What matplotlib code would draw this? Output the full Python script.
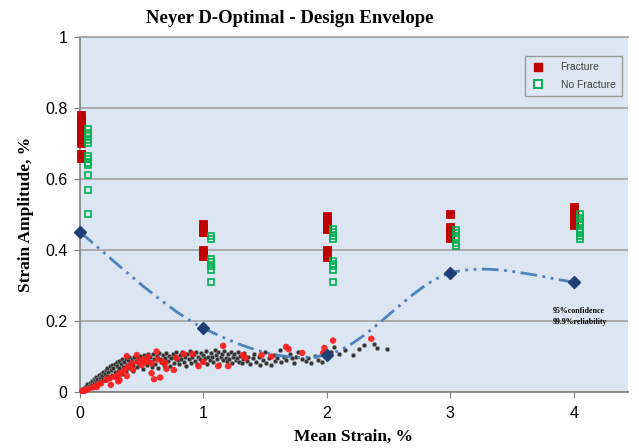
import numpy as np
import matplotlib.pyplot as plt
from matplotlib.path import Path
from matplotlib.patches import PathPatch
from matplotlib.lines import Line2D

# ── data ───────────────────────────────────────────────────
frac_x = [0.01] * 11 + [1.0] * 6 + [2.0] * 8 + [3.0] * 5 + [4.0] * 6
frac_y = [0.78, 0.77, 0.76, 0.75, 0.74, 0.73, 0.72, 0.71, 0.70, 0.67, 0.66,
          0.473, 0.462, 0.45, 0.40, 0.39, 0.382,
          0.495, 0.485, 0.475, 0.465, 0.46, 0.40, 0.39, 0.38,
          0.502, 0.465, 0.455, 0.445, 0.435,
          0.52, 0.51, 0.50, 0.49, 0.48, 0.47]

nofrac_x = [0.065] * 12 + [1.06] * 7 + [2.05] * 9 + [3.05] * 6 + [4.05] * 8
nofrac_y = [0.74, 0.73, 0.72, 0.71, 0.70, 0.665, 0.655, 0.645, 0.64, 0.61, 0.57, 0.50,
            0.44, 0.43, 0.375, 0.365, 0.355, 0.345, 0.31,
            0.46, 0.45, 0.44, 0.43, 0.37, 0.36, 0.355, 0.345, 0.31,
            0.456, 0.447, 0.438, 0.43, 0.42, 0.41,
            0.50, 0.49, 0.48, 0.47, 0.46, 0.45, 0.44, 0.43]

env_x = [0, 1, 2, 3, 4]
env_y = [0.45, 0.18, 0.105, 0.335, 0.31]

black_pts = [
    (0.01, 0.003), (0.02, 0.008), (0.03, 0.004), (0.03, 0.012), (0.04, 0.009),
    (0.05, 0.016), (0.05, 0.006), (0.06, 0.012), (0.06, 0.022), (0.07, 0.018),
    (0.08, 0.026), (0.08, 0.011), (0.09, 0.021), (0.10, 0.030), (0.10, 0.016),
    (0.11, 0.026), (0.11, 0.038), (0.12, 0.020), (0.12, 0.033), (0.13, 0.042),
    (0.13, 0.027), (0.14, 0.036), (0.15, 0.047), (0.15, 0.024), (0.16, 0.040),
    (0.16, 0.031), (0.17, 0.052), (0.18, 0.045), (0.18, 0.030), (0.19, 0.057),
    (0.19, 0.038), (0.20, 0.050), (0.21, 0.062), (0.21, 0.033), (0.22, 0.044),
    (0.22, 0.068), (0.23, 0.055), (0.24, 0.072), (0.24, 0.040), (0.25, 0.061),
    (0.26, 0.076), (0.26, 0.048), (0.27, 0.068), (0.28, 0.080), (0.28, 0.055),
    (0.29, 0.042), (0.30, 0.073), (0.30, 0.085), (0.31, 0.060), (0.32, 0.088),
    (0.32, 0.068), (0.33, 0.078), (0.34, 0.050), (0.34, 0.092), (0.35, 0.070),
    (0.36, 0.084), (0.37, 0.094), (0.37, 0.060), (0.38, 0.077), (0.39, 0.090),
    (0.40, 0.068), (0.40, 0.098), (0.41, 0.082), (0.42, 0.094), (0.43, 0.058),
    (0.43, 0.075), (0.44, 0.100), (0.45, 0.088), (0.46, 0.070), (0.47, 0.097),
    (0.48, 0.080), (0.49, 0.102), (0.50, 0.090), (0.51, 0.066), (0.52, 0.084),
    (0.52, 0.104), (0.53, 0.096), (0.54, 0.075), (0.55, 0.106), (0.56, 0.088),
    (0.57, 0.099), (0.58, 0.070), (0.59, 0.108), (0.60, 0.092), (0.61, 0.080),
    (0.62, 0.101), (0.63, 0.068), (0.64, 0.110), (0.65, 0.094), (0.66, 0.085),
    (0.67, 0.104), (0.68, 0.075), (0.69, 0.097), (0.70, 0.110), (0.71, 0.088),
    (0.72, 0.102), (0.73, 0.072), (0.74, 0.095), (0.75, 0.108), (0.76, 0.083),
    (0.77, 0.100), (0.78, 0.112), (0.79, 0.090), (0.80, 0.078), (0.81, 0.104),
    (0.82, 0.094), (0.83, 0.112), (0.84, 0.085), (0.85, 0.100), (0.86, 0.074),
    (0.87, 0.108), (0.88, 0.092), (0.89, 0.115), (0.90, 0.082), (0.91, 0.099),
    (0.92, 0.106), (0.93, 0.088), (0.94, 0.113), (0.95, 0.078), (0.96, 0.100),
    (0.97, 0.093), (0.98, 0.110), (0.99, 0.084), (1.00, 0.104), (1.01, 0.095),
    (1.02, 0.116), (1.03, 0.080), (1.04, 0.100), (1.05, 0.090), (1.06, 0.110),
    (1.07, 0.098), (1.08, 0.085), (1.09, 0.118), (1.10, 0.104), (1.11, 0.092),
    (1.12, 0.112), (1.13, 0.080), (1.14, 0.100), (1.15, 0.108), (1.16, 0.090),
    (1.17, 0.115), (1.18, 0.097), (1.19, 0.086), (1.20, 0.106), (1.21, 0.094),
    (1.22, 0.112), (1.23, 0.082), (1.24, 0.100), (1.25, 0.108), (1.26, 0.090),
    (1.27, 0.097), (1.28, 0.113), (1.29, 0.085), (1.30, 0.102), (1.31, 0.082),
    (1.32, 0.094), (1.33, 0.110), (1.35, 0.088), (1.36, 0.100), (1.38, 0.078),
    (1.40, 0.095), (1.41, 0.108), (1.43, 0.084), (1.45, 0.098), (1.46, 0.076),
    (1.48, 0.090), (1.50, 0.112), (1.51, 0.082), (1.53, 0.095), (1.55, 0.076),
    (1.57, 0.104), (1.58, 0.088), (1.60, 0.097), (1.62, 0.117), (1.63, 0.085),
    (1.65, 0.100), (1.67, 0.090), (1.70, 0.108), (1.72, 0.095), (1.73, 0.083),
    (1.75, 0.100), (1.77, 0.112), (1.80, 0.092), (1.83, 0.088), (1.85, 0.095),
    (1.87, 0.083), (1.90, 0.102), (1.93, 0.090), (1.96, 0.085), (2.00, 0.098),
    (2.03, 0.112), (2.06, 0.127), (2.10, 0.107), (2.15, 0.118), (2.21, 0.104),
    (2.26, 0.122), (2.30, 0.132), (2.38, 0.135), (2.41, 0.124), (2.49, 0.121),
]

red_pts = [
    (0.02, 0.003), (0.04, 0.004), (0.065, 0.008), (0.105, 0.013), (0.135, 0.014),
    (0.14, 0.020), (0.17, 0.024), (0.21, 0.034), (0.24, 0.039), (0.25, 0.020),
    (0.28, 0.043), (0.31, 0.048), (0.31, 0.030), (0.32, 0.034), (0.33, 0.054),
    (0.36, 0.062), (0.38, 0.101), (0.38, 0.045), (0.39, 0.071), (0.42, 0.081),
    (0.43, 0.064), (0.46, 0.104), (0.47, 0.085), (0.50, 0.076), (0.51, 0.092),
    (0.54, 0.085), (0.55, 0.099), (0.58, 0.081), (0.58, 0.053), (0.60, 0.036),
    (0.62, 0.114), (0.63, 0.092), (0.65, 0.041), (0.67, 0.085), (0.69, 0.081),
    (0.70, 0.065), (0.76, 0.062), (0.78, 0.096), (0.84, 0.107), (0.91, 0.107),
    (0.96, 0.073), (1.00, 0.085), (1.12, 0.073), (1.16, 0.130), (1.20, 0.073),
    (1.32, 0.104), (1.34, 0.096), (1.47, 0.104), (1.55, 0.100), (1.67, 0.127),
    (1.69, 0.121), (1.80, 0.110), (1.97, 0.110), (1.98, 0.124), (2.05, 0.145),
    (2.36, 0.150),
]

SERIF = ['Liberation Serif', 'DejaVu Serif']
SANS = ['Liberation Sans', 'DejaVu Sans']


def smooth_path(xs, ys):
    """Excel-like smoothed line: Catmull-Rom segments as cubic Beziers."""
    pts = np.column_stack([xs, ys]).astype(float)
    n = len(pts)
    verts = [pts[0]]
    codes = [Path.MOVETO]
    for i in range(n - 1):
        p0 = pts[max(i - 1, 0)]
        p1, p2 = pts[i], pts[i + 1]
        p3 = pts[min(i + 2, n - 1)]
        verts += [p1 + (p2 - p0) / 6, p2 - (p3 - p1) / 6, p2]
        codes += [Path.CURVE4] * 3
    return Path(verts, codes)


fig = plt.figure(figsize=(6.39, 4.48), dpi=100)
ax = fig.add_axes([80 / 639, 56 / 448, 548 / 639, 355 / 448])
ax.set_facecolor('#dce6f2')

ax.set_xlim(0, 4.44)
ax.set_ylim(0, 1)
ax.set_xticks([0, 1, 2, 3, 4])
ax.set_yticks([0, 0.2, 0.4, 0.6, 0.8, 1])
ax.set_yticklabels(['0', '0.2', '0.4', '0.6', '0.8', '1'])
ax.yaxis.grid(True, color='#a6a6a6', lw=1.3)
ax.set_axisbelow(True)
ax.spines['right'].set_visible(False)
ax.spines['top'].set_color('#a6a6a6')
ax.spines['top'].set_linewidth(1.3)
for s in ('left', 'bottom'):
    ax.spines[s].set_color('#7f7f7f')
    ax.spines[s].set_linewidth(1.2)
ax.tick_params(colors='#7f7f7f', length=4, labelcolor='black', labelsize=11.5)
for lab in ax.get_xticklabels() + ax.get_yticklabels():
    lab.set_family(SANS)
ax.tick_params(axis='x', pad=6)
ax.tick_params(axis='y', pad=5)

# cloud of test data near the origin
bx, by = np.array(black_pts).T
rx, ry = np.array(red_pts).T
ax.scatter(bx, by, s=9, c='#333333', edgecolors='#8c8c8c', linewidths=0.4,
           zorder=3, clip_on=False)
ax.scatter(rx, ry, s=22, c='#ff1a1a', edgecolors='none', alpha=0.9,
           zorder=4, clip_on=False)

# design envelope
env = PathPatch(smooth_path(env_x, env_y), fill=False, edgecolor='#4f81bd',
                lw=2, linestyle=(0, (6, 2, 1, 2, 1, 2)), zorder=5)
ax.add_patch(env)
ax.plot(env_x, env_y, ls='none', marker='D', ms=6.5, color='#1f3f77',
        zorder=6, clip_on=False)

# Neyer D-optimal test points
ax.plot(frac_x, frac_y, ls='none', marker='s', ms=5.3, mfc='#c00000',
        mec='#c00000', mew=0.6, zorder=7, clip_on=False)
ax.plot(nofrac_x, nofrac_y, ls='none', marker='s', ms=5, mfc='none',
        mec='#00b050', mew=1.2, zorder=7, clip_on=False)

handles = [
    Line2D([], [], ls='none', marker='s', ms=6, mfc='#c00000', mec='#c00000'),
    Line2D([], [], ls='none', marker='s', ms=5.5, mfc='white', mec='#00b050', mew=1.4),
]
leg = ax.legend(handles, ['Fracture', 'No Fracture'], loc='upper right',
                bbox_to_anchor=(0.998, 0.961), frameon=True, fancybox=False,
                facecolor='#dde6f2', edgecolor='#9a9a9a', framealpha=1,
                prop={'family': SANS, 'size': 7.5}, handletextpad=1.6,
                borderpad=0.6, labelspacing=0.7, handlelength=1.2)
for t in leg.get_texts():
    t.set_color('#404040')

ax.text(3.83, 0.228, '95%confidence', fontsize=5.7, fontweight='bold',
        family=SERIF, va='center', ha='left')
ax.text(3.83, 0.197, '99.9%reliability', fontsize=5.7, fontweight='bold',
        family=SERIF, va='center', ha='left')

fig.text(0.453, 0.958, 'Neyer D-Optimal - Design Envelope', ha='center',
         va='center', fontsize=13.5, fontweight='bold', family=SERIF)
ax.set_xlabel('Mean Strain, %', fontsize=12.5, fontweight='bold',
              family=SERIF, labelpad=6)
ax.set_ylabel('Strain Amplitude, %', fontsize=12.5, fontweight='bold',
              family=SERIF, labelpad=8)

fig.savefig('out.png', dpi=100)
